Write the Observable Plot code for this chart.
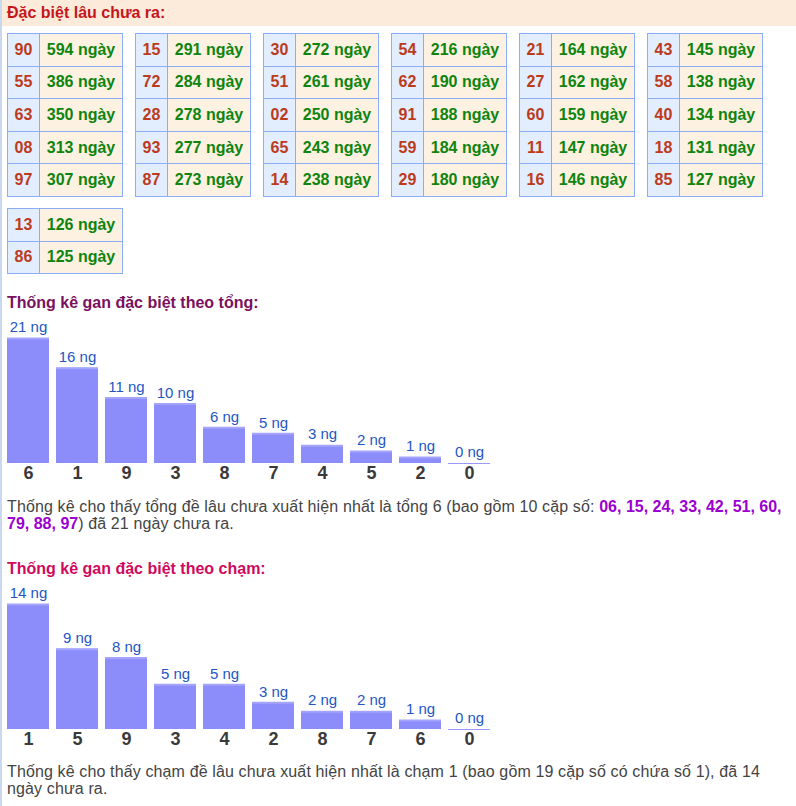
<!DOCTYPE html>
<html>
<head>
<meta charset="utf-8">
<script src="https://cdn.jsdelivr.net/npm/d3@7"></script>
<script src="https://cdn.jsdelivr.net/npm/@observablehq/plot@0.6"></script>
<style>
  html, body { margin: 0; padding: 0; background: #fff; }
  body { font-family: "Liberation Sans", Arial, sans-serif; width: 796px; height: 806px; overflow: hidden; }
  #page { border-left: 2px solid #c9d7ef; min-height: 806px; box-sizing: border-box; }
  #hdr { height: 26px; line-height: 25px; background: #fceada; color: #c4161c; font-weight: bold; font-size: 16px; padding-left: 5px; }
  #tables { display: flex; flex-wrap: wrap; column-gap: 12px; row-gap: 11px; padding: 7px 0 0 5px; width: 780px; }
  table.g { border-collapse: collapse; table-layout: fixed; width: 116px; }
  table.g td { border: 1px solid #8aaef6; height: 31.6px; padding: 0; font-weight: bold; font-size: 16px; text-align: center; }
  table.g td.n { width: 31px; background: #e2edfe; color: #bb3b1c; }
  table.g td.d { background: #fdf2e1; color: #0f840f; }
  .title { font-weight: bold; font-size: 16px; padding-left: 5px; height: 18px; line-height: 18px; }
  .chart svg { display: block; }
  .para { font-size: 16px; color: #444; padding-left: 5px; line-height: 17px; width: 785px; letter-spacing: 0.13px; }
  .para b { color: #9b00cf; letter-spacing: 0; }
</style>
</head>
<body>
<div id="page">
  <div id="hdr">Đặc biệt lâu chưa ra:</div>
  <div id="tables"></div>
  <div class="title" id="t1" style="color:#7a1060; margin-top:20px;">Thống kê gan đặc biệt theo tổng:</div>
  <div class="chart" id="c1" style="margin-top:3px;"></div>
  <div class="para" id="p1" style="margin-top:13px;"></div>
  <div class="title" id="t2" style="color:#cf0a5e; margin-top:28px;">Thống kê gan đặc biệt theo chạm:</div>
  <div class="chart" id="c2" style="margin-top:3px;"></div>
  <div class="para" id="p2" style="margin-top:12px;"></div>
</div>
<script>
// ---- data ----
const ganNumbers = ["90","55","63","08","97","15","72","28","93","87","30","51","02","65","14","54","62","91","59","29","21","27","60","11","16","43","58","40","18","85","13","86"];
const ganDays = [594,386,350,313,307,291,284,278,277,273,272,261,250,243,238,216,190,188,184,180,164,162,159,147,146,145,138,134,131,127,126,125];
const tongCats = ["6","1","9","3","8","7","4","5","2","0"];
const tongVals = [21,16,11,10,6,5,3,2,1,0];
const chamCats = ["1","5","9","3","4","2","8","7","6","0"];
const chamVals = [14,9,8,5,5,3,2,2,1,0];
const tongPairs = ["06","15","24","33","42","51","60","79","88","97"];

// ---- tables ----
const tablesDiv = document.getElementById("tables");
for (let i = 0; i < ganNumbers.length; i += 5) {
  const t = document.createElement("table");
  t.className = "g";
  for (let j = i; j < Math.min(i + 5, ganNumbers.length); j++) {
    const tr = document.createElement("tr");
    const a = document.createElement("td"); a.className = "n"; a.textContent = ganNumbers[j];
    const b = document.createElement("td"); b.className = "d"; b.textContent = ganDays[j] + " ngày";
    tr.appendChild(a); tr.appendChild(b); t.appendChild(tr);
  }
  tablesDiv.appendChild(t);
}

// ---- bar charts ----
function barChart(cats, vals) {
  const data = cats.map((c, i) => ({cat: c, v: vals[i]}));
  const max = d3.max(vals);
  return Plot.plot({
    width: 794,
    height: 170,
    marginLeft: 5,
    marginRight: 306,
    marginTop: 23,
    marginBottom: 22,
    style: {fontFamily: "'Liberation Sans', Arial, sans-serif", background: "transparent"},
    x: {domain: cats, paddingInner: 1/7, paddingOuter: 0, axis: null},
    y: {domain: [0, max], axis: null},
    marks: [
      Plot.barY(data, {x: "cat", y: "v", fill: "#8c8cfb"}),
      Plot.tickY(data, {x: "cat", y: "v", stroke: d => d.v === 0 ? "#9a9afc" : "#a4a4fd", strokeWidth: d => d.v === 0 ? 1 : 2}),
      Plot.text(data, {x: "cat", y: "v", text: d => d.v + " ng", dy: -11, fill: "#2356c4", fontSize: 15}),
      Plot.axisX({tickSize: 0, tickPadding: 3, fontSize: 18, fontWeight: "bold", color: "#3a3a3a", label: null})
    ]
  });
}
document.getElementById("c1").appendChild(barChart(tongCats, tongVals));
document.getElementById("c2").appendChild(barChart(chamCats, chamVals));

// ---- paragraphs ----
document.getElementById("p1").innerHTML =
  "Thống kê cho thấy tổng đề lâu chưa xuất hiện nhất là tổng " + tongCats[0] +
  " (bao gồm " + tongPairs.length + " cặp số: <b>" + tongPairs.join(", ") + "</b>) đã " + tongVals[0] + " ngày chưa ra.";
document.getElementById("p2").innerHTML =
  "Thống kê cho thấy chạm đề lâu chưa xuất hiện nhất là chạm " + chamCats[0] +
  " (bao gồm 19 cặp số có chứa số " + chamCats[0] + "), đã " + chamVals[0] + " ngày chưa ra.";
</script>
</body>
</html>
